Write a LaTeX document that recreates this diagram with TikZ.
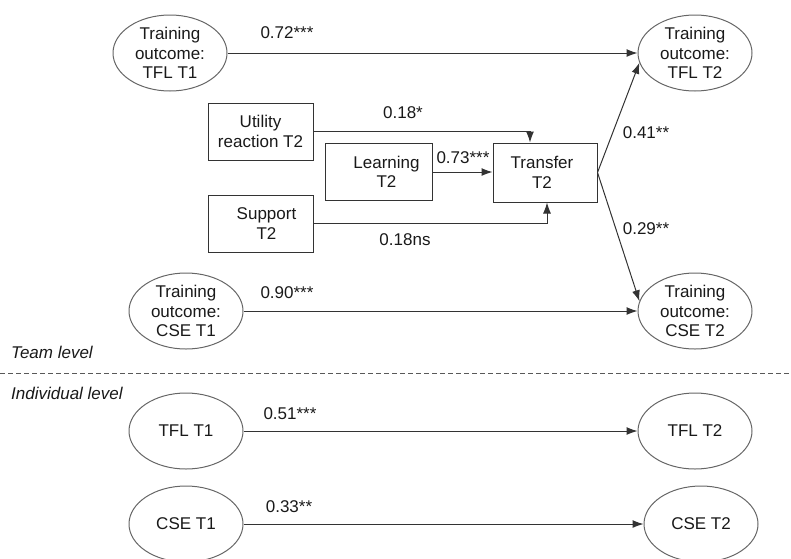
\documentclass[tikz,border=0pt]{standalone}
\usepackage{fontspec}
\setmainfont{Liberation Sans}
\usetikzlibrary{shapes.geometric,arrows.meta}
\begin{document}
\begin{tikzpicture}[x=1pt,y=-1pt,
  every node/.style={font=\fontsize{17}{19.5}\selectfont, text=black!90},
  oval/.style={draw=black!60, line width=1pt, ellipse, minimum width=114pt, minimum height=76pt, inner sep=0pt},
  rbox/.style={draw=black!80, line width=1pt, rectangle, inner sep=0pt},
  lab/.style={align=center, inner sep=0pt},
  coef/.style={inner sep=0pt},
  conn/.style={draw=black!80, line width=1pt, -{Latex[length=11pt,width=8pt]}},
  lvl/.style={font=\fontsize{17}{20}\selectfont\itshape, anchor=west, inner sep=0pt}]
\useasboundingbox (0,0) rectangle (791,558);
% team level ellipses
\node[oval, label={[lab]center:Training\\outcome:\\TFL T1}] (t1) at (170,53) {};
\node[oval, label={[lab]center:Training\\outcome:\\TFL T2}] (t2) at (695,53) {};
\node[oval, label={[lab]center:Training\\outcome:\\CSE T1}] (c1) at (186,311) {};
\node[oval, label={[lab]center:Training\\outcome:\\CSE T2}] (c2) at (695,311) {};
% boxes
\node[rbox, minimum width=105pt, minimum height=57pt, label={[lab]center:Utility\\reaction T2}] (u) at (260.5,131.5) {};
\node[rbox, minimum width=107pt, minimum height=57pt, label={[lab,xshift=8pt]center:Learning\\T2}] (l) at (378.5,172) {};
\node[rbox, minimum width=104pt, minimum height=59pt, label={[lab,xshift=-3pt]center:Transfer\\T2}] (tr) at (545,172.5) {};
\node[rbox, minimum width=105pt, minimum height=57pt, label={[lab,xshift=6pt]center:Support\\T2}] (s) at (260.5,223.5) {};
% individual level ellipses
\node[oval, label={[lab]center:TFL T1}] (i1) at (186,431) {};
\node[oval, label={[lab]center:TFL T2}] (i2) at (695,431) {};
\node[oval, label={[lab]center:CSE T1}] (j1) at (186,524) {};
\node[oval, label={[lab]center:CSE T2}] (j2) at (701,524) {};
% connectors
\draw[conn] (t1.east) -- (t2.west);
\draw[conn] (u.east) -| ([xshift=-15pt]tr.north);
\draw[conn] (l.east) -- (l.east -| tr.west);
\draw[conn] (s.east) -| ([xshift=2pt]tr.south);
\draw[conn] (tr.east) -- (t2.190);
\draw[conn] (tr.east) -- (c2.170);
\draw[conn] (c1.east) -- (c2.west);
\draw[conn] (i1.east) -- (i2.west);
\draw[conn] (j1.east) -- (j2.west);
% coefficients
\node[coef] (k1) at (287,33) {0.72***};
\node[coef] (k2) at (403,113) {0.18*};
\node[coef] (k3) at (463,158) {0.73***};
\node[coef] (k4) at (405,240) {0.18ns};
\node[coef] (k5) at (646,133) {0.41**};
\node[coef] (k6) at (646,229) {0.29**};
\node[coef] (k7) at (287,293) {0.90***};
\node[coef] (k8) at (290,414) {0.51***};
\node[coef] (k9) at (289,507) {0.33**};
% level separator
\coordinate (dl) at (0,373);
\coordinate (dr) at (791,373);
\draw[draw=black!65, line width=1pt, dash pattern=on 5pt off 3pt] (dl) -- (dr);
\node[lvl] (team) at (11,352) {Team level};
\node[lvl] (ind) at (11,393) {Individual level};
\end{tikzpicture}
\end{document}
